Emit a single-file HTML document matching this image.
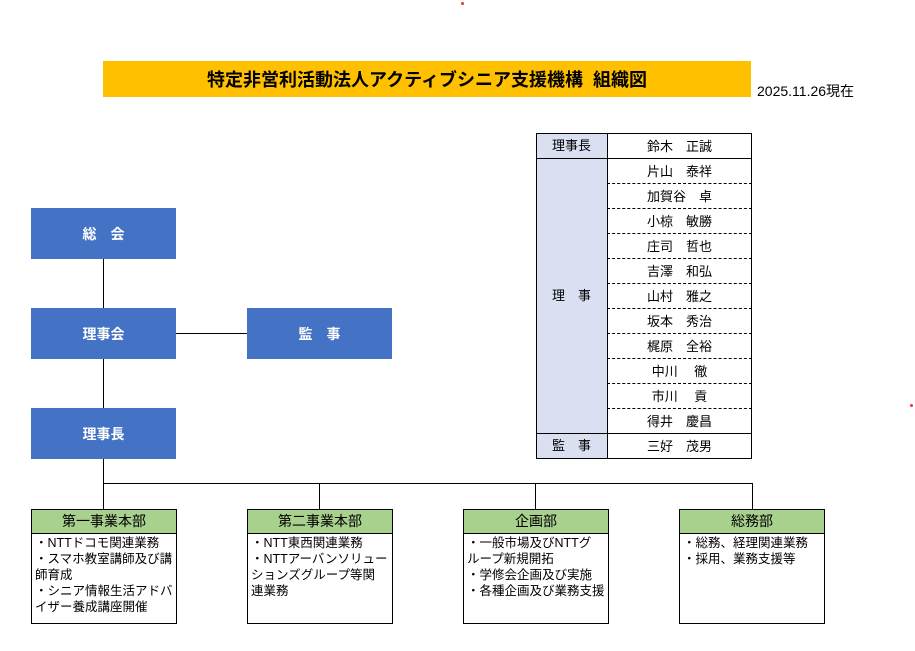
<!DOCTYPE html>
<html><head><meta charset="utf-8"><style>
body{margin:0;width:915px;height:651px;position:relative;background:#fff;font-family:"Liberation Sans","Noto Sans CJK JP",sans-serif;overflow:hidden}
.a{position:absolute;box-sizing:border-box}
.b{background:#4472C4;color:#fff;font-weight:bold;font-size:14px;display:flex;align-items:center;justify-content:center;width:145px;height:51px}
.l{background:#000}
.h{background:#A9D18E;border:1px solid #000;font-size:14px;text-align:center;line-height:22px;width:146px;height:25px}
.d{border:1px solid #000;border-top:none;font-size:12.5px;line-height:16px;padding:2px 3px;width:146px;height:91px;white-space:nowrap}
.c{font-size:13px;text-align:center;line-height:24px}
.k{background:#DAE0F2;width:71px;left:536px}
.v{left:607px;width:145px;height:25px;line-height:27px}
.sl{border-top:1px dashed #000;line-height:26px}
</style></head><body>
<div class="a" style="left:461px;top:2px;width:3px;height:3px;background:#e33;border-radius:50%"></div>
<div class="a" style="left:910px;top:404px;width:3px;height:3px;background:#e33;border-radius:50%"></div>
<div class="a" style="left:103px;top:61px;width:648px;height:36px;background:#FFC000;font-size:18px;font-weight:bold;display:flex;align-items:center;justify-content:center">特定非営利活動法人アクティブシニア支援機構&nbsp;&nbsp;組織図</div>
<div class="a" style="left:757px;top:81px;font-size:14px">2025.11.26現在</div>

<div class="a b" style="left:31px;top:208px">総　会</div>
<div class="a b" style="left:31px;top:308px">理事会</div>
<div class="a b" style="left:247px;top:308px">監　事</div>
<div class="a b" style="left:31px;top:408px">理事長</div>
<div class="a l" style="left:103px;top:259px;width:1px;height:49px"></div>
<div class="a l" style="left:103px;top:359px;width:1px;height:49px"></div>
<div class="a l" style="left:103px;top:459px;width:1px;height:50px"></div>
<div class="a l" style="left:176px;top:333px;width:71px;height:1px"></div>
<div class="a l" style="left:103px;top:483px;width:650px;height:1px"></div>
<div class="a l" style="left:319px;top:483px;width:1px;height:26px"></div>
<div class="a l" style="left:535px;top:483px;width:1px;height:26px"></div>
<div class="a l" style="left:752px;top:483px;width:1px;height:26px"></div>

<div class="a h" style="left:31px;top:509px">第一事業本部</div>
<div class="a d" style="left:31px;top:533px">・NTTドコモ関連業務<br>・スマホ教室講師及び講<br>師育成<br>・シニア情報生活アドバ<br>イザー養成講座開催</div>
<div class="a h" style="left:247px;top:509px">第二事業本部</div>
<div class="a d" style="left:247px;top:533px">・NTT東西関連業務<br>・NTTアーバンソリュー<br>ションズグループ等関<br>連業務</div>
<div class="a h" style="left:463px;top:509px">企画部</div>
<div class="a d" style="left:463px;top:533px">・一般市場及びNTTグ<br>ループ新規開拓<br>・学修会企画及び実施<br>・各種企画及び業務支援</div>
<div class="a h" style="left:679px;top:509px">総務部</div>
<div class="a d" style="left:679px;top:533px">・総務、経理関連業務<br>・採用、業務支援等</div>

<div class="a k c" style="top:133px;height:25px;line-height:25px">理事長</div>
<div class="a k c" style="top:158px;height:275px;line-height:275px">理　事</div>
<div class="a k c" style="top:433px;height:25px;line-height:25px">監　事</div>
<div class="a c v" style="top:133px">鈴木　正誠</div>
<div class="a c v" style="top:158px">片山　泰祥</div>
<div class="a c v sl" style="top:183px">加賀谷　卓</div>
<div class="a c v sl" style="top:208px">小椋　敏勝</div>
<div class="a c v sl" style="top:233px">庄司　哲也</div>
<div class="a c v sl" style="top:258px">吉澤　和弘</div>
<div class="a c v sl" style="top:283px">山村　雅之</div>
<div class="a c v sl" style="top:308px">坂本　秀治</div>
<div class="a c v sl" style="top:333px">梶原　全裕</div>
<div class="a c v sl" style="top:358px">中川　 徹</div>
<div class="a c v sl" style="top:383px">市川　 貢</div>
<div class="a c v sl" style="top:408px">得井　慶昌</div>
<div class="a c v" style="top:433px">三好　茂男</div>
<div class="a" style="left:536px;top:133px;width:216px;height:326px;border:1px solid #000"></div>
<div class="a l" style="left:607px;top:133px;width:1px;height:325px"></div>
<div class="a l" style="left:536px;top:158px;width:216px;height:1px"></div>
<div class="a l" style="left:536px;top:433px;width:216px;height:1px"></div>
</body></html>
